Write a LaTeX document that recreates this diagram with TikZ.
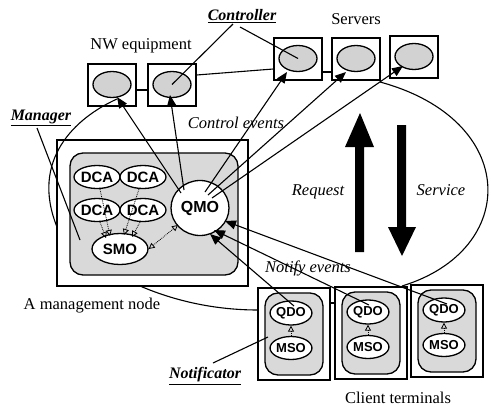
\documentclass[tikz,border=0pt]{standalone}
\usepackage{fontspec}
\setmainfont{Liberation Serif}
\newfontfamily\hv{Liberation Sans}
\usetikzlibrary{shapes.geometric,arrows.meta}
\begin{document}
\begin{tikzpicture}[x=1pt,y=-1pt,
  lbl/.style={font=\fontsize{16.5}{18}\selectfont, inner sep=0},
  ilbl/.style={font=\fontsize{16.5}{18}\selectfont\itshape, inner sep=0},
  ulbl/.style={font=\fontsize{16}{18}\selectfont\bfseries\itshape, inner sep=0},
  eqbox/.style={draw, line width=1.3pt, minimum width=48pt, minimum height=42pt, inner sep=0},
  eqell/.style={draw, ellipse, line width=1.3pt, fill=gray!35, minimum width=38pt, minimum height=26pt, inner sep=0},
  obj/.style={draw, ellipse, line width=1.3pt, fill=white, inner sep=0, font=\hv\bfseries\fontsize{15}{15}\selectfont},
  cobj/.style={draw, ellipse, line width=1.3pt, fill=white, inner sep=0, minimum width=35pt, minimum height=24pt, font=\hv\bfseries\fontsize{13}{13}\selectfont},
  shade/.style={draw, line width=1.3pt, fill=gray!30, rounded corners=13pt, inner sep=0},
  frame/.style={draw, line width=1.3pt, inner sep=0},
  link/.style={line width=1.1pt},
  ctl/.style={line width=1.1pt, -{Triangle[length=11pt,width=9pt]}},
  dotar/.style={densely dotted, line width=0.8pt, -{Triangle[open,length=6pt,width=6pt]}},
  bigar/.style={fill=black, draw=none}
]
\useasboundingbox (0,0) rectangle (491,407);

% ---------- texts ----------
\node[ulbl] (tctrl) at (242,16) {\underline{Controller}};
\node[lbl] (tserv) at (356,19) {Servers};
\node[lbl] (tnw) at (141,46) {NW equipment};
\node[ulbl] (tman) at (41,118) {\underline{Manager}};
\node[ilbl] (tce) at (236,123) {Control events};
\node[ilbl] (treq) at (318,192) {Request};
\node[ilbl] (tsvc) at (441,190) {Service};
\node[ilbl] (tne) at (308,268) {Notify events};
\node[lbl] (tmn) at (92,306) {A management node};
\node[ulbl] (tnot) at (205,376) {\underline{Notificator}};
\node[lbl] (tct) at (398,398) {Client terminals};

% ---------- equipment ----------
\node[eqbox] (nw1) at (112,85) {};
\node[eqell] (nw1e) at (112,84.5) {};
\node[eqbox] (nw2) at (172,85) {};
\node[eqell] (nw2e) at (172,84.5) {};
\node[eqbox] (s1) at (298,59) {};
\node[eqell] (s1e) at (298,58.5) {};
\node[eqbox] (s2) at (356,59) {};
\node[eqell] (s2e) at (356,58.5) {};
\node[eqbox] (s3) at (414,57) {};
\node[eqell] (s3e) at (414,56.5) {};

% ---------- management node ----------
\node[frame, minimum width=191pt, minimum height=146pt] (mgmt) at (152.5,213) {};
\node[shade, minimum width=168pt, minimum height=122pt] (mgin) at (154,214) {};
\node[obj, minimum width=42pt, minimum height=23pt] (dca1) at (97,177) {DCA};
\node[obj, minimum width=42pt, minimum height=23pt] (dca2) at (143,177) {DCA};
\node[obj, minimum width=42pt, minimum height=23pt] (dca3) at (97,210) {DCA};
\node[obj, minimum width=42pt, minimum height=23pt] (dca4) at (143,210) {DCA};
\node[obj, minimum width=56pt, minimum height=31pt] (smo) at (120,249) {SMO};
\node[obj, minimum width=58pt, minimum height=55pt, font=\hv\bfseries\fontsize{16}{16}\selectfont] (qmo) at (200,208) {QMO};

% ---------- client terminals ----------
\foreach \n/\x/\y in {c1/294/334, c2/371/333, c3/447/331}{
  \node[frame, minimum width=72pt, minimum height=92pt] (\n) at (\x,\y) {};
  \node[shade, minimum width=58pt, minimum height=82pt] (\n in) at (\x,\y) {};
  \node[cobj] (\n q) at ([shift={(-3,-21)}]\n.center) {QDO};
  \node[cobj, minimum height=23pt] (\n m) at ([shift={(-3,14)}]\n.center) {MSO};
  \draw[dotar] (\n m.north) -- (\n q.south);
}

% ---------- network loop ----------
\coordinate (l1) at (117,99);
\coordinate (l2) at (57,227);
\coordinate (l3) at (140,286);
\coordinate (l4) at (258,310);
\coordinate (l5) at (380,82);
\coordinate (l6) at (402,286);
\draw[link] (l1) .. controls (75,118) and (30,160) .. (l2);
\draw[link] (l3) .. controls (175,301) and (215,310) .. (l4);
\draw[link] (l5) .. controls (520,120) and (520,250) .. (l6);
\draw[link] (nw1.east |- 0,90) -- (nw2.west |- 0,90);
\draw[link] (nw2.east |- 0,75) -- (s1.west |- 0,69);
\draw[link] (s1.east |- 0,72) -- (s2.west |- 0,72);
\draw[link] (c1.east |- 0,303) -- (c2.west |- 0,303);

% ---------- label pointers ----------
\draw[link] (233,24) -- (nw2e.center);
\draw[link] (240,27) -- (s1e.center);
\draw[link] (37,128) -- (80,240);
\draw[link] (213,363) -- (268,337);

% ---------- dotted arrows in management node ----------
\draw[dotar] (dca1.south) ++(3,0) -- (110,236);
\draw[dotar] (dca2.south) ++(-4,0) -- (124,235);
\draw[dotar] (dca3.south) ++(3,0) -- (106,238);
\draw[dotar] (dca4.south) ++(-3,0) -- (132,237);
\draw[densely dotted, line width=0.8pt, {Triangle[open,length=6pt,width=6pt]}-{Triangle[open,length=6pt,width=6pt]}] (smo.east) -- (178,225);

% ---------- control events ----------
\draw[ctl] (181,193) -- (117,97);
\draw[ctl] (184,190) -- (170,95);
\draw[ctl] (205,192) -- (287,72);
\draw[ctl] (208,195) -- (346,72);
\draw[ctl] (212,198) -- (403,66);

% ---------- notify events ----------
\draw[ctl] (c3q.center) ++(3,-6) -- (225,221);
\draw[ctl] (c2q.center) ++(1,-7) -- (214,230);
\draw[ctl] (c1q.center) ++(3,-7) -- (210,234);

% ---------- request / service ----------
\path[bigar] (355,252) -- (355,147) -- (345,147) -- (360,113) -- (374,147) -- (364,147) -- (364,252) -- cycle;
\path[bigar] (397,125) -- (397,227) -- (388,227) -- (402,256) -- (416,227) -- (406,227) -- (406,125) -- cycle;
\end{tikzpicture}
\end{document}
